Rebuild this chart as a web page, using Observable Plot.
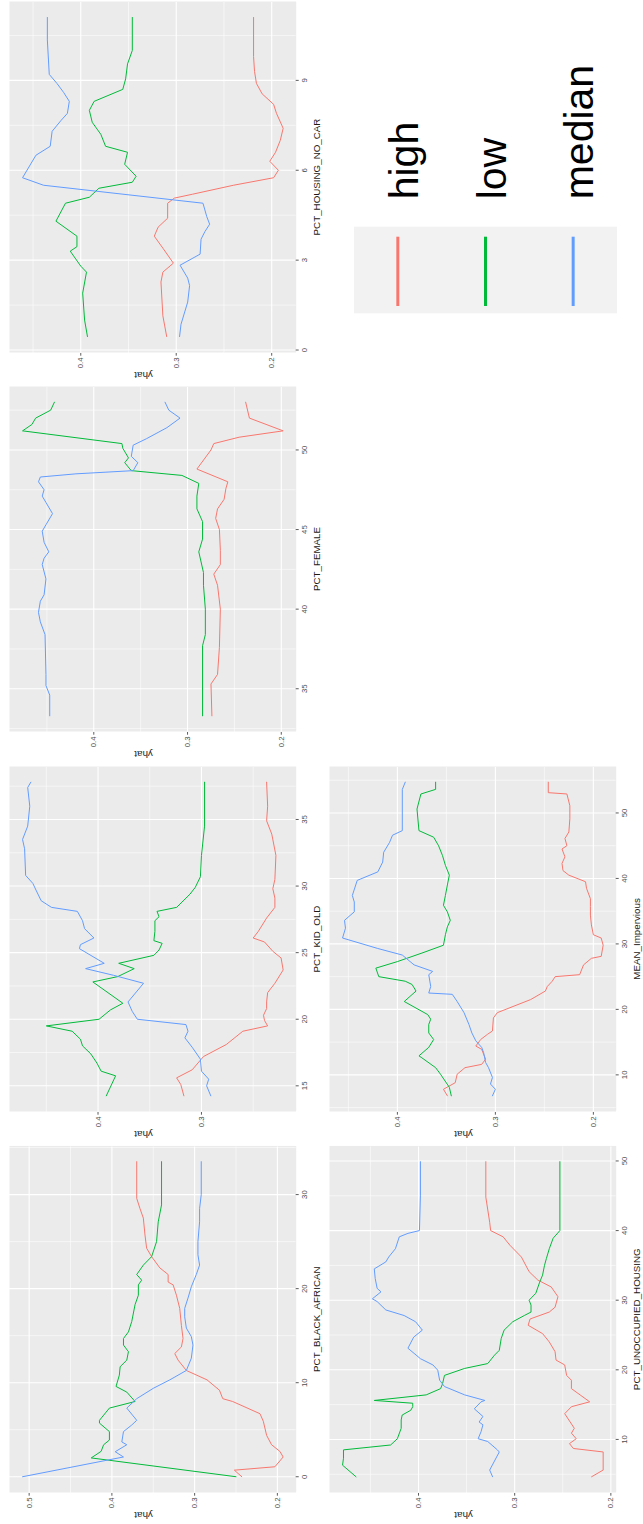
<!DOCTYPE html>
<html>
<head>
<meta charset="utf-8">
<script src="https://cdn.jsdelivr.net/npm/d3@7"></script>
<script src="https://cdn.jsdelivr.net/npm/@observablehq/plot@0.6"></script>
<style>
html, body { margin: 0; padding: 0; background: #fff; }
body { width: 643px; height: 1524px; overflow: hidden; position: relative; }
#root { position: absolute; left: 0; top: 0; width: 1524px; height: 643px;
  transform-origin: 0 0; transform: translate(0px, 1524px) rotate(-90deg);
  background: #fff; font-family: "Liberation Sans", Arial, sans-serif; }
.cell { position: absolute; }
.cell svg { max-width: none !important; display: block; overflow: visible; }
</style>
</head>
<body>
<div id="root"></div>
<script>
// ---------------- data ----------------
const seriesNames = ["high", "low", "median"];
const seriesColors = ["#F8766D", "#00BA38", "#619CFF"];

// PCT_BLACK_AFRICAN
const blackAfricanHigh = [[0,0.243],[0.7,0.252],[1.06,0.203],[2.1,0.193],[2.7,0.197],[3.4,0.207],[4.4,0.213],[5.9,0.217],[6.7,0.221],[8.0,0.254],[8.3,0.266],[9.2,0.27],[10.3,0.285],[11.3,0.31],[12.4,0.32],[13.1,0.324],[13.8,0.316],[14.7,0.314],[16.1,0.316],[17.9,0.318],[19.3,0.322],[20.4,0.326],[20.7,0.332],[21.5,0.332],[22.2,0.342],[23.4,0.352],[24.3,0.358],[25.7,0.36],[27.5,0.362],[28.5,0.366],[29.6,0.37],[33.5,0.37]];
const blackAfricanLow = [[0,0.25],[2.0,0.425],[2.7,0.413],[3.4,0.41],[3.9,0.403],[4.8,0.403],[5.7,0.415],[6.0,0.415],[7.3,0.403],[8.0,0.372],[9.0,0.382],[9.6,0.395],[10.8,0.391],[11.7,0.39],[12.4,0.382],[13.3,0.38],[14,0.386],[14.7,0.386],[15.4,0.38],[16.5,0.376],[18.3,0.372],[19.3,0.368],[20.4,0.368],[20.9,0.364],[21.5,0.37],[22.5,0.362],[23.4,0.352],[25,0.346],[27.1,0.344],[28.9,0.34],[33.5,0.34]];
const blackAfricanMedian = [[0,0.508],[2.1,0.386],[2.66,0.396],[3.4,0.382],[3.7,0.388],[4.8,0.386],[5.5,0.376],[6.0,0.37],[7.3,0.382],[8.3,0.37],[9.4,0.35],[10.3,0.33],[11.3,0.31],[12.6,0.304],[14,0.302],[14.9,0.304],[15.8,0.31],[17,0.312],[17.9,0.312],[19,0.308],[20.2,0.304],[21.5,0.298],[22.5,0.294],[23.6,0.296],[25,0.296],[27.1,0.294],[28.5,0.294],[30,0.292],[33.5,0.292]];

// PCT_KID_OLD
const kidOldHigh = [[14.25,0.317],[15.1,0.32],[15.6,0.324],[16.2,0.309],[17.2,0.298],[18.1,0.276],[19.1,0.26],[19.5,0.236],[19.9,0.239],[20.3,0.24],[20.8,0.237],[21.3,0.237],[22,0.236],[22.7,0.229],[23.7,0.221],[24.6,0.223],[25.1,0.231],[25.8,0.239],[26.1,0.25],[26.6,0.245],[27.6,0.237],[28.4,0.229],[29.1,0.229],[29.8,0.231],[30.5,0.229],[32.3,0.228],[33.9,0.232],[34.9,0.237],[36,0.236],[37.8,0.237]];
const kidOldLow = [[14.25,0.392],[15.75,0.383],[16.1,0.397],[16.7,0.401],[17.4,0.407],[18,0.415],[18.5,0.417],[19.1,0.425],[19.5,0.45],[20,0.399],[20.7,0.388],[21.2,0.376],[22.8,0.405],[23.2,0.381],[23.8,0.365],[24.2,0.38],[24.8,0.346],[25.2,0.341],[25.7,0.338],[25.9,0.346],[26.6,0.345],[27.4,0.345],[27.7,0.341],[28.1,0.343],[28.4,0.324],[29.4,0.311],[29.9,0.306],[30.7,0.301],[32.3,0.3],[34.5,0.297],[37.8,0.297]];
const kidOldMedian = [[14.25,0.291],[15,0.295],[15.5,0.293],[16.1,0.3],[17,0.301],[17.9,0.309],[18.6,0.316],[19.1,0.313],[19.6,0.315],[20,0.362],[20.6,0.367],[21.3,0.371],[22.7,0.356],[23.3,0.385],[23.8,0.412],[24.2,0.394],[25.3,0.418],[25.6,0.417],[26.1,0.404],[26.8,0.413],[27.4,0.415],[28.1,0.42],[28.4,0.445],[28.9,0.455],[29.7,0.46],[30.2,0.463],[30.8,0.47],[32.8,0.471],[33.5,0.473],[34.5,0.468],[36,0.466],[37.4,0.468],[37.8,0.465]];

// PCT_FEMALE
const femaleHigh = [[33.3,0.274],[35.3,0.275],[35.9,0.268],[37.6,0.266],[40,0.265],[41.5,0.268],[42.2,0.272],[42.8,0.265],[43.7,0.265],[45,0.266],[45.7,0.27],[46.3,0.268],[46.9,0.261],[47.6,0.259],[48,0.257],[48.8,0.29],[50,0.275],[50.4,0.272],[50.8,0.245],[51.2,0.198],[52,0.234],[53,0.238]];
const femaleLow = [[33.3,0.284],[37.7,0.284],[38.4,0.281],[40,0.281],[41.5,0.283],[42.3,0.283],[43.6,0.288],[44.4,0.284],[45.5,0.284],[46.3,0.29],[47.1,0.29],[47.9,0.288],[48.4,0.306],[48.7,0.36],[49.2,0.367],[49.5,0.363],[50.1,0.369],[50.4,0.37],[51.2,0.476],[51.6,0.466],[52,0.462],[52.5,0.446],[53,0.442]];
const femaleMedian = [[33.3,0.447],[34.6,0.447],[35.2,0.451],[35.9,0.451],[38.4,0.452],[39.2,0.457],[39.8,0.459],[40.5,0.457],[40.9,0.453],[41.9,0.451],[42.8,0.455],[43.2,0.453],[43.6,0.448],[44.2,0.453],[44.9,0.455],[45.3,0.451],[46,0.444],[46.7,0.451],[47.1,0.455],[47.5,0.453],[48,0.459],[48.3,0.457],[48.5,0.419],[48.7,0.358],[49.2,0.353],[49.6,0.36],[50.3,0.358],[50.7,0.344],[51.4,0.322],[52,0.308],[52.5,0.32],[53,0.324]];

// PCT_HOUSING_NO_CAR
const noCarHigh = [[0.45,0.31],[1.14,0.314],[2.27,0.316],[2.6,0.314],[2.9,0.303],[3.4,0.314],[3.8,0.323],[4.1,0.319],[4.4,0.309],[4.9,0.309],[5.07,0.302],[5.2,0.283],[5.5,0.24],[5.75,0.198],[6.0,0.193],[6.3,0.202],[6.6,0.196],[7.0,0.191],[7.4,0.188],[7.9,0.195],[8.2,0.198],[8.55,0.21],[8.9,0.216],[9.3,0.218],[9.8,0.219],[11.1,0.219]];
const noCarLow = [[0.45,0.393],[1.0,0.396],[1.9,0.398],[2.6,0.394],[2.8,0.4],[3.3,0.411],[3.45,0.404],[3.8,0.404],[4.3,0.426],[4.9,0.416],[5.1,0.391],[5.4,0.381],[5.6,0.346],[5.8,0.342],[6.2,0.354],[6.6,0.351],[6.8,0.374],[7.2,0.379],[7.6,0.388],[8.0,0.391],[8.3,0.386],[8.7,0.356],[9.05,0.353],[9.55,0.351],[10,0.346],[11.1,0.346]];
const noCarMedian = [[0.45,0.2965],[0.86,0.295],[1.6,0.288],[2.15,0.286],[2.4,0.288],[2.83,0.296],[3.2,0.275],[3.7,0.274],[3.95,0.27],[4.2,0.265],[4.45,0.268],[4.9,0.272],[5.5,0.439],[5.75,0.461],[6.5,0.447],[6.8,0.432],[7.3,0.43],[7.65,0.421],[7.9,0.414],[8.3,0.412],[8.6,0.418],[8.9,0.425],[9.2,0.433],[10.35,0.435],[11.1,0.435]];

// PCT_UNOCCUPIED_HOUSING
const unoccupiedHigh = [[4.64,0.22],[5.6,0.208],[8.2,0.208],[8.7,0.239],[9.4,0.243],[10.1,0.236],[10.9,0.241],[11.6,0.238],[13.7,0.248],[14.7,0.241],[15.4,0.222],[16.4,0.232],[17.3,0.241],[18.5,0.241],[19.2,0.246],[20.7,0.248],[21.4,0.257],[22.6,0.258],[24,0.264],[25.2,0.271],[26.4,0.286],[27.3,0.284],[28.3,0.264],[29,0.258],[30.5,0.255],[31.9,0.262],[32.9,0.276],[34.1,0.285],[36.2,0.293],[37.9,0.305],[39.1,0.312],[40,0.325],[41.2,0.326],[44.8,0.33],[49.9,0.33]];
const unoccupiedLow = [[4.64,0.465],[6.3,0.479],[7.3,0.478],[8.5,0.478],[9.2,0.429],[10.1,0.422],[11.6,0.418],[12.8,0.418],[13.5,0.417],[14.2,0.408],[14.7,0.406],[15.2,0.406],[15.6,0.446],[16.4,0.392],[17.3,0.377],[18,0.375],[19.2,0.373],[20.2,0.352],[20.9,0.328],[22.1,0.321],[22.8,0.316],[24.5,0.314],[25.7,0.311],[26.9,0.302],[27.8,0.29],[28.3,0.283],[29.3,0.283],[30,0.285],[31,0.278],[32.6,0.274],[33.6,0.271],[35,0.269],[36,0.267],[37.4,0.264],[38.9,0.26],[40,0.253],[49.9,0.253]];
const unoccupiedMedian = [[4.64,0.323],[5.6,0.326],[8.2,0.316],[8.5,0.318],[9.7,0.328],[10.1,0.338],[11.1,0.335],[12.1,0.333],[12.5,0.337],[13.3,0.333],[14.4,0.342],[15.4,0.335],[15.6,0.331],[16.4,0.352],[17.6,0.373],[18.5,0.378],[19.95,0.38],[20.7,0.385],[21.6,0.398],[23.1,0.411],[24.7,0.405],[25.7,0.396],[26.9,0.403],[27.8,0.415],[28.6,0.434],[29.8,0.443],[30.2,0.448],[31.2,0.439],[31.7,0.443],[33.1,0.445],[34.5,0.446],[35.5,0.434],[36.2,0.431],[37.4,0.424],[39.1,0.42],[39.6,0.411],[40,0.399],[45.1,0.398],[49.9,0.398]];

// MEAN_Impervious
const imperviousHigh = [[6.8,0.349],[7.8,0.353],[8.8,0.341],[10.1,0.339],[11.1,0.331],[11.6,0.314],[12.4,0.31],[13.9,0.314],[14.4,0.32],[15.4,0.315],[16.2,0.308],[16.7,0.303],[18.7,0.302],[19.5,0.298],[21.5,0.264],[22.8,0.249],[23.5,0.247],[24.3,0.242],[25,0.239],[25.3,0.214],[26.8,0.21],[27.8,0.202],[28.1,0.192],[29.8,0.19],[30.9,0.192],[31.4,0.2],[32.9,0.202],[34.4,0.203],[35.7,0.203],[36.9,0.203],[38.5,0.207],[39.5,0.208],[40.5,0.225],[41.2,0.231],[42.3,0.232],[43.3,0.229],[44.5,0.232],[45,0.227],[46.1,0.229],[47.1,0.225],[49.1,0.224],[51.1,0.224],[52.9,0.227],[53.1,0.246],[54.7,0.246]];
const imperviousLow = [[6.8,0.345],[8.1,0.347],[10.1,0.356],[11.1,0.361],[12.6,0.375],[12.9,0.378],[14.2,0.368],[15.4,0.363],[16.4,0.368],[17.7,0.368],[18.5,0.366],[19.2,0.369],[20.2,0.381],[21.2,0.393],[22.8,0.381],[23.8,0.385],[24.3,0.392],[25,0.419],[26.3,0.422],[27.3,0.4],[28.6,0.375],[29.8,0.353],[31.4,0.351],[32.6,0.349],[33.6,0.346],[34.9,0.349],[35.9,0.353],[37.4,0.351],[39,0.349],[40.5,0.347],[42,0.351],[43.5,0.354],[45,0.358],[46.3,0.363],[47.3,0.378],[50.6,0.38],[52.9,0.376],[53.6,0.361],[54.7,0.361]];
const imperviousMedian = [[6.8,0.303],[7.8,0.3],[8.6,0.305],[9.6,0.303],[11.1,0.307],[11.9,0.31],[13.4,0.312],[14.2,0.314],[15.2,0.32],[16.4,0.324],[17.7,0.327],[19.5,0.332],[21.2,0.339],[22.3,0.344],[22.5,0.368],[23.5,0.366],[25.3,0.368],[25.8,0.364],[26.8,0.383],[28.3,0.395],[29.3,0.42],[30.9,0.456],[32.4,0.453],[33.6,0.454],[34.9,0.444],[36.4,0.444],[37.4,0.446],[39.7,0.441],[41,0.42],[42.5,0.415],[44,0.414],[45.5,0.408],[46.6,0.405],[47.3,0.395],[53.6,0.395],[54.7,0.392]];

// axis tick labels
const blackAfricanXTicks = [0, 10, 20, 30];
const kidOldXTicks = [15, 20, 25, 30, 35];
const femaleXTicks = [35, 40, 45, 50];
const noCarXTicks = [0, 3, 6, 9];
const unoccupiedXTicks = [10, 20, 30, 40, 50];
const imperviousXTicks = [10, 20, 30, 40, 50];
const yTicksWide = [0.2, 0.3, 0.4, 0.5];
const yTicksKid = [0.3, 0.4];
const yTicksStd = [0.2, 0.3, 0.4];

const panels = [
  {label: "PCT_BLACK_AFRICAN", high: blackAfricanHigh, low: blackAfricanLow, median: blackAfricanMedian, xTicks: blackAfricanXTicks, yTicks: yTicksWide},
  {label: "PCT_KID_OLD", high: kidOldHigh, low: kidOldLow, median: kidOldMedian, xTicks: kidOldXTicks, yTicks: yTicksKid},
  {label: "PCT_FEMALE", high: femaleHigh, low: femaleLow, median: femaleMedian, xTicks: femaleXTicks, yTicks: yTicksStd},
  {label: "PCT_HOUSING_NO_CAR", high: noCarHigh, low: noCarLow, median: noCarMedian, xTicks: noCarXTicks, yTicks: yTicksStd},
  {label: "PCT_UNOCCUPIED_HOUSING", high: unoccupiedHigh, low: unoccupiedLow, median: unoccupiedMedian, xTicks: unoccupiedXTicks, yTicks: yTicksStd},
  {label: "MEAN_Impervious", high: imperviousHigh, low: imperviousLow, median: imperviousMedian, xTicks: imperviousXTicks, yTicks: yTicksStd}
];

// ---------------- layout (landscape page, later rotated) ----------------
const panelBoxes = [
  [30.7, 377.3, 9.3, 296],
  [412.3, 757.3, 9.3, 296],
  [792.3, 1137.3, 9.3, 296],
  [1171.3, 1522.3, 9.3, 296],
  [30.7, 377.3, 329.3, 616],
  [412.3, 757.3, 329.3, 616]
];

const FONT = '"Liberation Sans", Arial, Helvetica, sans-serif';
const root = document.getElementById("root");

function expand([lo, hi]) {
  const d = (hi - lo) * 0.05;
  return [lo - d, hi + d];
}
function minorBreaks(ticks, [lo, hi]) {
  const step = ticks[1] - ticks[0];
  let v = ticks[0] - step / 2;
  while (v - step >= lo) v -= step;
  const out = [];
  for (; v <= hi + 1e-9; v += step) if (v >= lo) out.push(+v.toFixed(6));
  return out;
}

panels.forEach((p, i) => {
  const [gx0, gx1, gy0, gy1] = panelBoxes[i];
  const mL = 32, mR = 4, mT = 2, mB = 30;
  const rows = [];
  seriesNames.forEach(s => p[s].forEach(([x, y]) => rows.push({series: s, x, y})));
  const xd = expand(d3.extent(rows, d => d.x));
  const yd = expand(d3.extent(rows, d => d.y));
  const chart = Plot.plot({
    width: mL + (gx1 - gx0) + mR,
    height: mT + (gy1 - gy0) + mB,
    marginLeft: mL, marginRight: mR, marginTop: mT, marginBottom: mB,
    style: {fontFamily: FONT, background: "transparent", overflow: "visible", maxWidth: "none"},
    x: {domain: xd},
    y: {domain: yd},
    color: {domain: seriesNames, range: seriesColors},
    marks: [
      Plot.frame({fill: "#EBEBEB", stroke: "none"}),
      Plot.gridX(minorBreaks(p.xTicks, xd), {stroke: "#FFFFFF", strokeOpacity: 1, strokeWidth: 0.55}),
      Plot.gridY(minorBreaks(p.yTicks, yd), {stroke: "#FFFFFF", strokeOpacity: 1, strokeWidth: 0.55}),
      Plot.gridX(p.xTicks, {stroke: "#FFFFFF", strokeOpacity: 1, strokeWidth: 1.1}),
      Plot.gridY(p.yTicks, {stroke: "#FFFFFF", strokeOpacity: 1, strokeWidth: 1.1}),
      Plot.axisX(p.xTicks, {label: null, tickSize: 3, tickPadding: 2.7, fontSize: 7.8, fill: "#4D4D4D", stroke: "#333333", strokeWidth: 0.8}),
      Plot.axisY(p.yTicks, {label: null, tickSize: 2.7, tickPadding: 2.3, fontSize: 7.8, fill: "#4D4D4D", stroke: "#333333", strokeWidth: 0.8, tickFormat: d3.format(".1f")}),
      Plot.text([p.label], {text: d => d, frameAnchor: "bottom", dy: 17.3, lineAnchor: "top", fontSize: 9.8, fontWeight: "normal", fill: "#1A1A1A", stroke: "none"}),
      Plot.text(["yhat"], {text: d => d, frameAnchor: "left", dx: -23, rotate: -90, lineAnchor: "middle", fontSize: 9.8, fontWeight: "normal", fill: "#1A1A1A", stroke: "none"}),
      Plot.line(rows, {x: "x", y: "y", z: "series", stroke: "series", strokeWidth: 1})
    ]
  });
  const cell = document.createElement("div");
  cell.className = "cell";
  cell.style.left = (gx0 - mL) + "px";
  cell.style.top = (gy0 - mT) + "px";
  cell.style.width = (mL + (gx1 - gx0) + mR) + "px";
  cell.appendChild(chart);
  root.appendChild(cell);
});

// ---------------- legend ----------------
const legLeft = 1195, legTop = 340;
const keyX0 = 1210.7, keyX1 = 1297.3, keyY0 = 354, keyY1 = 617;
const keyH = (keyY1 - keyY0) / seriesNames.length;
const legend = d3.create("svg")
  .attr("width", 330).attr("height", 290)
  .style("position", "absolute").style("left", legLeft + "px").style("top", legTop + "px")
  .style("overflow", "visible").style("font-family", FONT);
legend.append("rect")
  .attr("x", keyX0 - legLeft).attr("y", keyY0 - legTop)
  .attr("width", keyX1 - keyX0).attr("height", keyY1 - keyY0)
  .attr("fill", "#F2F2F2");
seriesNames.forEach((s, i) => {
  const cy = keyY0 - legTop + keyH * (i + 0.5);
  legend.append("line")
    .attr("x1", 1218 - legLeft).attr("x2", 1287.3 - legLeft)
    .attr("y1", cy).attr("y2", cy)
    .attr("stroke", seriesColors[i]).attr("stroke-width", 3);
  legend.append("text")
    .attr("x", 1324.7 - legLeft).attr("y", cy + 20)
    .attr("font-size", 41).attr("fill", "#000").text(s);
});
root.appendChild(legend.node());
</script>
</body>
</html>
